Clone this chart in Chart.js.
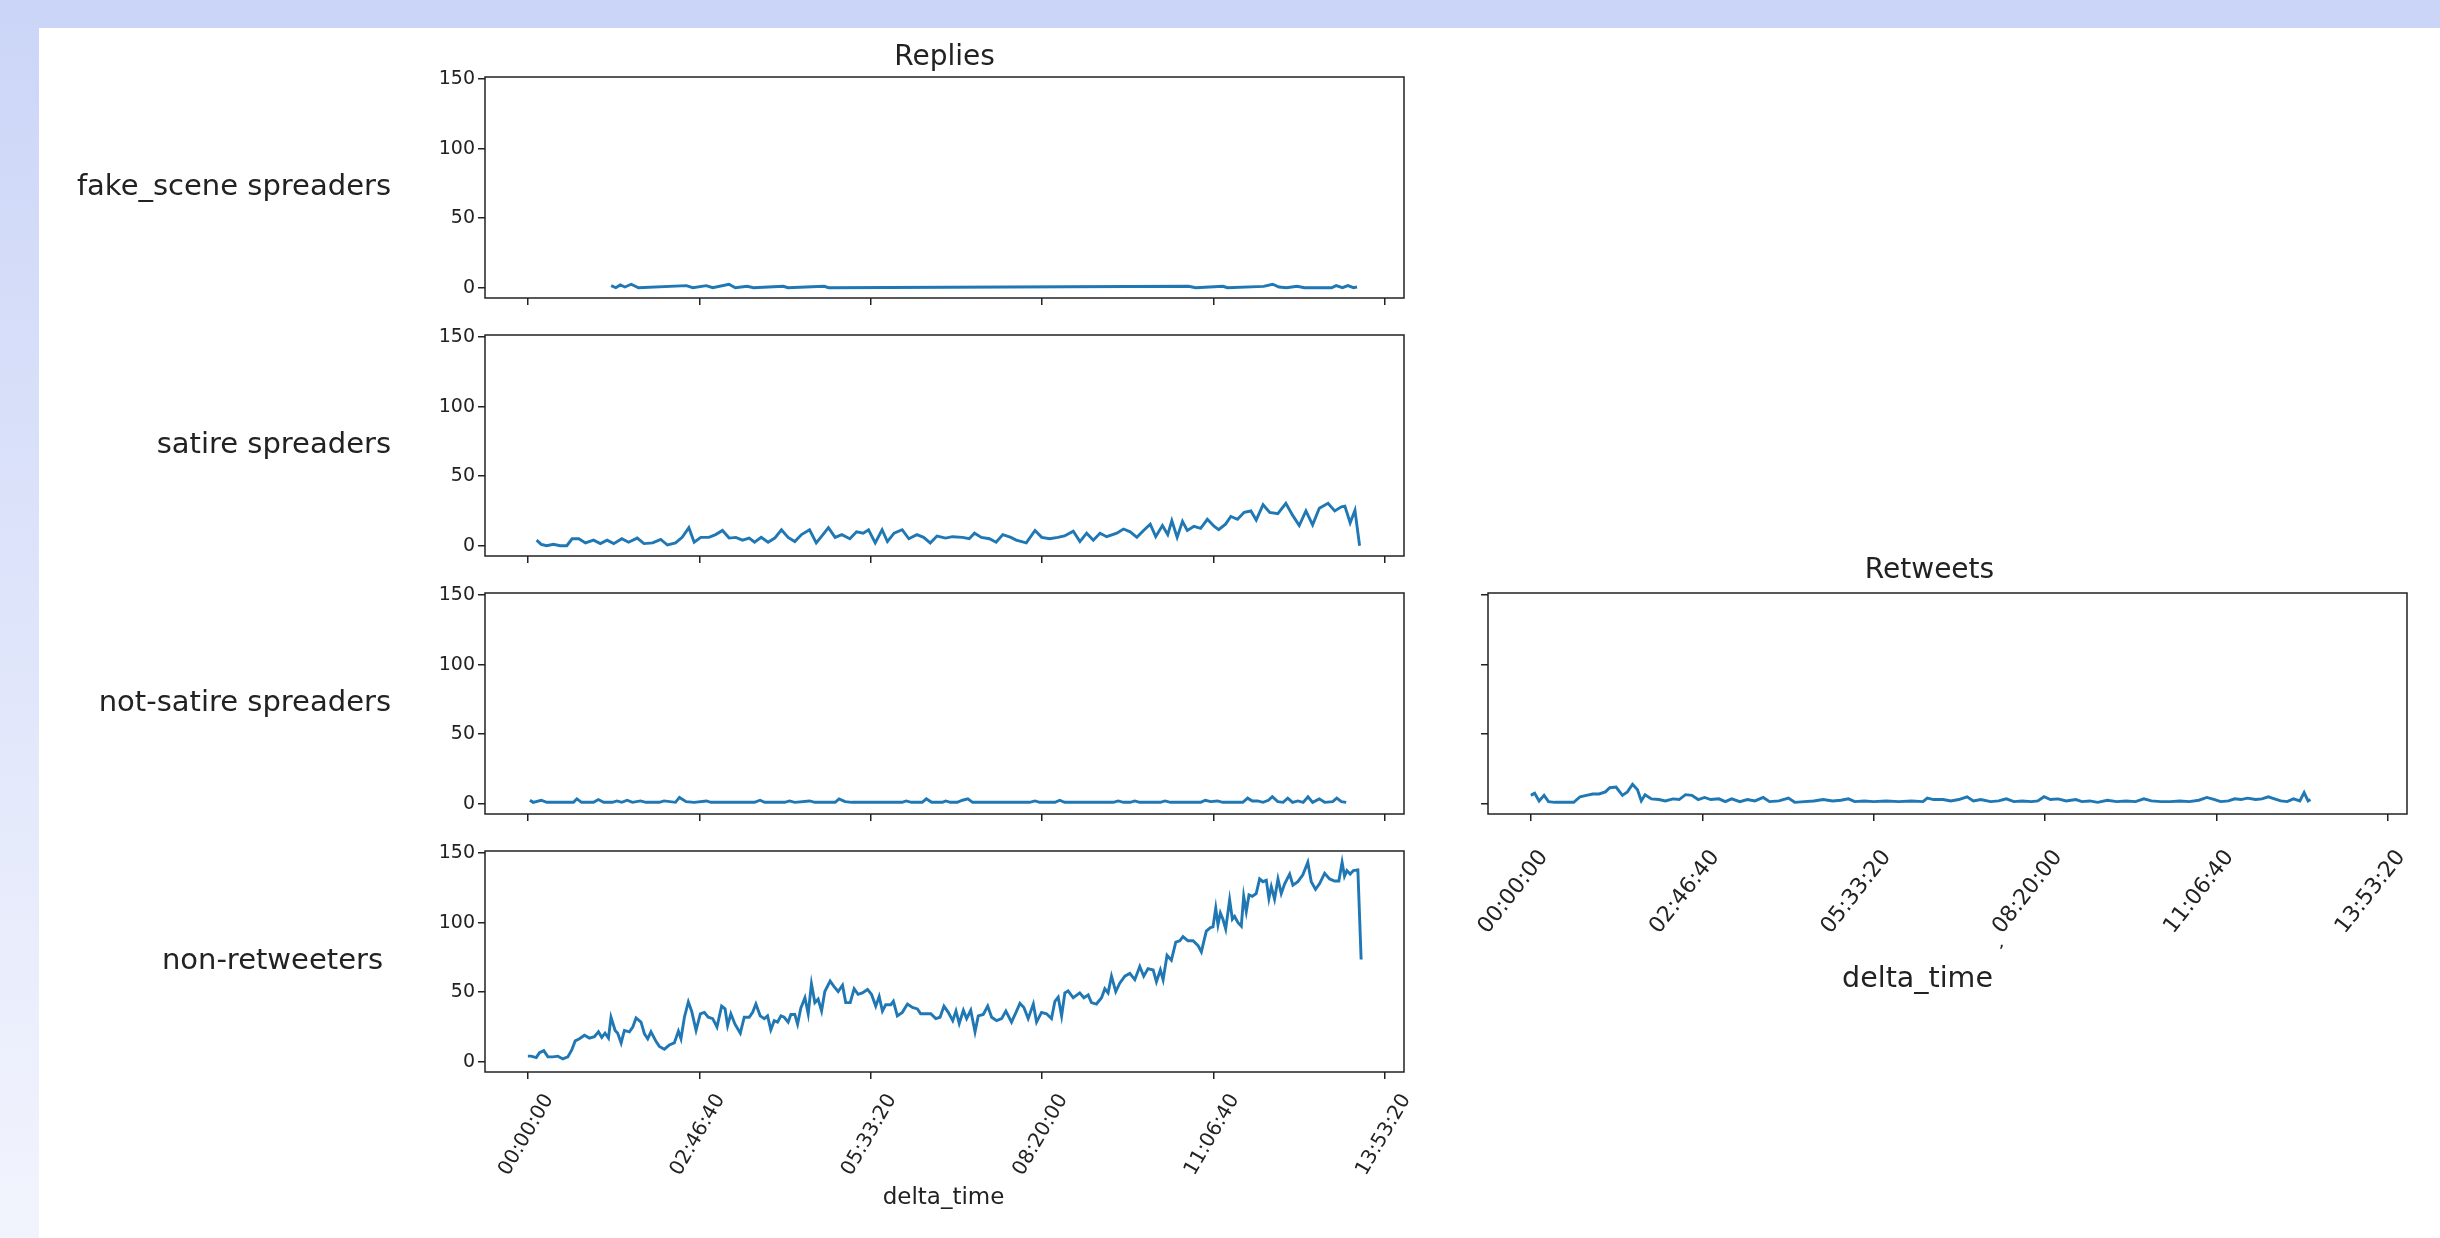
<!DOCTYPE html>
<html>
<head>
<meta charset="utf-8">
<script src="https://cdn.jsdelivr.net/npm/chart.js@4.4.1/dist/chart.umd.min.js"></script>
<style>
  body { margin: 0; width: 2440px; height: 1238px; background: #cbd5f7; position: relative; overflow: hidden; }
  #strip { position: absolute; left: 0; top: 0; width: 39px; height: 1238px; background: linear-gradient(#cbd5f7, #f2f4fd); }
  #sheet { position: absolute; left: 39px; top: 28px; right: 0; bottom: 0; background: #fff; }
  canvas { position: absolute; filter: blur(0.6px); }
</style>
</head>
<body>
<div id="strip"></div>
<div id="sheet"></div>
<canvas id="c0"></canvas>
<canvas id="c1"></canvas>
<canvas id="c2"></canvas>
<canvas id="c3"></canvas>
<canvas id="c4"></canvas>
<script>
// tick values (seconds) and their labels
const xTickValues = [0, 10000, 20000, 30000, 40000, 50000];
const xTickLabels = ["00:00:00", "02:46:40", "05:33:20", "08:20:00", "11:06:40", "13:53:20"];
const yTickValues = [0, 50, 100, 150];

const rowLabels = ["fake_scene spreaders", "satire spreaders", "not-satire spreaders", "non-retweeters"];

// [delta_time seconds, count]
const fakeSceneReplies = [[4860,1.5],[5130,0],[5390,2],[5660,0.5],[6030,2.5],[6450,0],[9250,1.5],[9620,0],[10410,1.5],[10780,0],
  [11730,2.5],[12100,0],[12790,1],[13160,0],[14900,1],[15170,0],[17280,1],[17550,0],[38530,1],[38950,0],[40540,1],[40800,0],
  [42910,1],[43440,2.5],[43810,0.5],[44240,0],[44870,1],[45290,0],[46880,0],[47140,1.5],[47510,0],[47830,1.5],[48150,0],[48360,0.5]];

const satireReplies = [[510,4],[780,1],[1100,0],[1490,1],[1880,0],[2270,0],[2580,5],[2970,5],[3360,2],[3830,4],[4230,1.5],[4620,4],
  [5010,1.5],[5480,5],[5870,2.5],[6380,5.5],[6770,1.5],[7280,2],[7750,4.5],[8140,0.5],[8610,2],[9000,6],[9390,13],[9700,2.5],
  [10090,6],[10560,6],[10950,8],[11350,11],[11740,5.5],[12130,6],[12520,4],[12910,5.5],[13220,2.5],[13610,6],[14010,2.5],
  [14400,5.5],[14790,11.5],[15180,6],[15570,3],[15960,8],[16430,11.5],[16820,2],[17210,8],[17530,13],[17920,6],[18310,8],
  [18780,5],[19170,10],[19560,9],[19870,11.5],[20260,2],[20660,11.5],[20970,3],[21360,9],[21830,11.5],[22220,5],[22690,8],
  [23080,6],[23470,2],[23860,7],[24370,5.5],[24760,6.5],[25350,6],[25740,5],[26050,9],[26450,6],[26920,5],[27310,2.5],
  [27700,8],[28170,6],[28480,4],[29070,2],[29580,11],[29970,6],[30440,5],[30910,6],[31300,7],[31810,10.5],[32200,3],
  [32590,9],[32980,4],[33370,9],[33760,6.5],[34350,9],[34740,12],[35130,10],[35520,6],[35910,11],[36300,15.5],[36620,6.5],
  [37010,14.5],[37320,8],[37560,18],[37870,6],[38180,17.5],[38460,11],[38850,14],[39240,12.5],[39630,19],[40020,14],
  [40290,11.5],[40690,15.5],[41000,21],[41390,19],[41780,24],[42170,25],[42480,18.5],[42880,29.5],[43270,24],[43740,23],
  [44210,30.5],[44600,22],[44990,14.5],[45380,25],[45770,15],[46160,27],[46670,30.5],[47060,25],[47450,28],[47650,28.5],
  [47960,16.5],[48240,25.5],[48510,0]];

const notSatireReplies = [[120,2.5],[310,1],[780,2.5],[1100,1],[2660,1],[2860,3.5],[3130,1],[3830,1],[4110,3],[4420,1],[4930,1],
  [5200,2],[5480,1],[5790,2.5],[6100,1],[6570,2],[6890,1],[7670,1],[7940,2],[8610,1],[8840,4.5],[9230,1.5],[9700,1],[10410,2],
  [10680,1],[13220,1],[13540,2.5],[13810,1],[14980,1],[15260,2],[15570,1],[16430,2],[16740,1],[17920,1],[18150,3.5],[18500,1.5],
  [18900,1],[21830,1],[22060,2],[22380,1],[23000,1],[23240,3.5],[23550,1],[24180,1],[24370,2],[24650,1],[25040,1],[25350,2.5],
  [25660,3.5],[25940,1],[29260,1],[29580,2],[29850,1],[30750,1],[31020,2.5],[31300,1],[34150,1],[34430,2],[34740,1],[35130,1],
  [35400,2],[35680,1],[36890,1],[37160,2],[37480,1],[39240,1],[39510,2.5],[39820,1.5],[40220,2],[40530,1],[41700,1],[41980,4],
  [42250,2],[42560,2],[42880,1],[43190,2.5],[43420,5],[43740,1.5],[44050,1],[44320,4],[44600,1],[44910,2],[45220,1],[45500,5],
  [45770,1],[46160,3.5],[46470,1],[46940,1.5],[47180,4],[47450,1.5],[47730,1]];

const nonRetweetersReplies = [[0,4],[190,4],[490,3],[680,6.5],[930,8],[1170,3.5],[1460,3.5],[1750,4],[2040,2],[2330,3.5],[2560,8.5],
  [2760,15],[3010,16.5],[3300,19],[3590,17],[3880,18],[4120,21.5],[4310,17.5],[4500,20.5],[4700,17],[4850,32],[5090,22.5],
  [5240,20.5],[5440,13.5],[5630,22.5],[5920,21.5],[6120,25],[6310,31.5],[6600,28.5],[6800,20],[6990,16.5],[7180,21.5],
  [7480,14.5],[7670,11],[7960,9],[8250,12],[8540,13.5],[8780,22],[8930,16.5],[9130,32],[9360,43],[9550,36.5],[9810,22.5],
  [10060,34.5],[10290,35.5],[10520,32],[10780,31],[11030,25],[11300,40],[11500,38],[11650,26],[11840,34.5],[12080,27],
  [12390,20.5],[12620,32],[12910,32],[13110,35.5],[13300,41.5],[13550,33],[13790,31],[13980,33],[14170,23],[14370,29.5],
  [14560,28.5],[14760,33],[14950,32],[15180,28.5],[15340,34],[15570,34],[15730,27],[15920,38.5],[16160,46],[16350,34.5],
  [16540,56],[16740,42.5],[16930,45],[17130,36.5],[17320,50.5],[17630,58],[17860,54],[18100,50.5],[18350,55],[18540,42.5],
  [18800,42.5],[19030,52.5],[19260,48.5],[19510,49.5],[19810,52],[20040,48.5],[20290,40],[20490,47],[20680,36.5],[20870,41],
  [21170,41],[21320,43.5],[21550,33],[21840,35.5],[22140,41.5],[22430,39],[22720,38],[22910,34.5],[23200,34.5],[23500,34.5],
  [23790,31],[24040,32],[24270,40],[24520,35.5],[24780,29.5],[24970,36.5],[25160,27.5],[25400,37],[25590,31],[25830,37],
  [26080,21.5],[26270,33],[26560,34],[26820,40],[27050,32],[27340,29.5],[27630,31],[27880,36.5],[28210,28.5],[28470,35.5],
  [28700,42],[28930,39],[29180,31],[29480,41.5],[29670,28.5],[29960,35.5],[30250,34.5],[30540,31],[30740,43.5],[30930,46.5],
  [31130,33],[31320,49.5],[31510,51],[31810,46],[32190,49.5],[32430,46],[32680,48],[32870,42.5],[33160,41.5],[33460,46],
  [33650,52.5],[33840,49.5],[34040,61.5],[34290,50.5],[34520,56.5],[34820,61.5],[35110,63.5],[35400,59],[35690,68.5],
  [35920,61.5],[36170,67],[36470,66],[36660,57.5],[36890,66],[37050,59],[37280,76.5],[37530,73],[37790,86],[38020,87],
  [38210,90],[38500,87],[38800,87],[39090,83.5],[39280,79],[39570,94],[39810,96.5],[39960,97],[40120,110.5],[40250,98.5],
  [40390,107],[40540,102.5],[40700,95.5],[40930,116.5],[41090,102.5],[41220,104.5],[41420,100],[41610,97.5],[41750,119],
  [41900,108],[42060,120],[42250,119],[42480,121],[42680,131.5],[42870,129.5],[43070,130.5],[43220,117.5],[43360,126],
  [43550,117],[43750,131.5],[43940,121],[44140,128],[44430,135],[44620,127],[44910,129.5],[45200,134.5],[45490,143.5],
  [45690,129.5],[45940,124],[46170,128],[46470,135.5],[46760,131.5],[47050,130],[47300,130],[47490,143.5],[47630,133.5],
  [47770,137.5],[47960,135],[48150,137.5],[48410,138],[48600,73.5]];

const notSatireRetweets = [[0,6],[220,7.5],[480,2],[770,6],[1030,1.5],[1400,1],[2500,1],[2870,5],[3240,6],[3610,7],[3980,7],
  [4350,8.5],[4600,11.5],[4970,12],[5340,6],[5630,8.5],[5930,14],[6220,10],[6440,2],[6660,6.5],[7030,3.5],[7470,3],[7840,2],
  [8290,3.5],[8650,3],[9020,6.5],[9390,6],[9760,3],[10130,4.5],[10490,3],[10970,3.5],[11340,1.5],[11710,3.5],[12190,1.5],
  [12630,3],[13070,2],[13550,4.5],[13920,1.5],[14470,2],[15020,4],[15390,1],[15940,1.5],[16500,2],[17050,3],[17600,2],
  [18080,2.5],[18520,3.5],[18890,1.5],[19440,2],[19990,1.5],[20730,2],[21470,1.5],[22200,2],[22870,1.5],[23120,4],[23490,3],
  [24040,3],[24490,2],[24960,3],[25440,5],[25810,2],[26250,3],[26810,1.5],[27280,2],[27730,3.5],[28170,1.5],[28650,2],
  [29200,1.5],[29570,2],[29930,5],[30300,3],[30750,3.5],[31220,2],[31780,3],[32140,1.5],[32590,2],[33060,1],[33620,2.5],
  [34170,1.5],[34720,2],[35270,1.5],[35750,3.5],[36190,2],[36750,1.5],[37300,1.5],[37850,2],[38400,1.5],[38960,2.5],
  [39430,4.5],[39880,3],[40240,1.5],[40690,2],[41050,3.5],[41420,3],[41790,4],[42270,3],[42640,3.5],[43010,5],[43370,3.5],
  [43740,2],[44110,1.5],[44480,3.5],[44850,2],[45100,8],[45330,2],[45470,3]];

Chart.defaults.font.family = "DejaVu Sans";
Chart.defaults.color = "#222";

// frame + extra texts drawn round the plot area
const panelText = {
  id: "panelText",
  afterDraw(chart, args, opts) {
    const ctx = chart.ctx;
    const a = chart.chartArea;
    ctx.save();
    ctx.strokeStyle = "#222";
    ctx.lineWidth = 1.5;
    ctx.strokeRect(a.left, a.top, a.right - a.left, a.bottom - a.top);
    ctx.fillStyle = "#222";
    if (opts.title) {
      ctx.font = "28px 'DejaVu Sans'";
      ctx.textAlign = "center";
      ctx.textBaseline = "alphabetic";
      ctx.fillText(opts.title, (a.left + a.right) / 2 + (opts.titleDx || 0), a.top - (opts.titleGap || 12));
    }
    if (opts.side) {
      ctx.font = "29px 'DejaVu Sans'";
      ctx.textAlign = "right";
      ctx.textBaseline = "middle";
      ctx.fillText(opts.side, a.left - opts.sideGap, (a.top + a.bottom) / 2);
    }
    if (opts.xlabel) {
      ctx.font = opts.xlabelSize + "px 'DejaVu Sans'";
      ctx.textAlign = "center";
      ctx.textBaseline = "middle";
      ctx.fillText(opts.xlabel, (a.left + a.right) / 2 + opts.xlabelDx, a.bottom + opts.xlabelDy);
    }
    if (opts.stray) {
      ctx.font = "18px 'DejaVu Sans'";
      ctx.textAlign = "center";
      ctx.textBaseline = "middle";
      ctx.fillText(opts.stray, (a.left + a.right) / 2 + opts.strayDx, a.bottom + opts.strayDy);
    }
    ctx.restore();
  }
};

function makeChart(id, geo, data, extra) {
  const cv = document.getElementById(id);
  const padTop = 70, padRight = 30;
  cv.width = geo.plotLeft - geo.left + geo.plotWidth + padRight;
  cv.height = padTop + geo.plotHeight + geo.bottom;
  cv.style.left = geo.left + "px";
  cv.style.top = (geo.plotTop - padTop) + "px";
  const tickGrid = { display: true, drawOnChartArea: false, drawTicks: true, tickLength: 7, color: "#222", lineWidth: 1.5 };
  return new Chart(cv, {
    type: "line",
    data: {
      datasets: [{
        data: data,
        borderColor: "#1f77b4",
        borderWidth: 2.9,
        pointRadius: 0,
        tension: 0,
        fill: false
      }]
    },
    options: {
      responsive: false,
      animation: false,
      devicePixelRatio: 1,
      layout: { padding: { left: 0, top: padTop, right: padRight, bottom: 0 } },
      plugins: { legend: { display: false }, tooltip: { enabled: false }, panelText: extra },
      scales: {
        x: {
          type: "linear",
          min: -2500,
          max: 51100,
          border: { display: false },
          grid: tickGrid,
          afterBuildTicks: s => { s.ticks = xTickValues.map(v => ({ value: v })); },
          afterFit: s => { s.height = geo.bottom; },
          ticks: {
            display: geo.xLabels,
            autoSkip: false,
            minRotation: geo.xRot,
            maxRotation: geo.xRot,
            padding: geo.xPad,
            labelOffset: geo.xOffset,
            font: { size: geo.xFont },
            callback: v => xTickLabels[xTickValues.indexOf(v)]
          }
        },
        y: {
          min: -7.4,
          max: 151.6,
          border: { display: false },
          grid: tickGrid,
          afterBuildTicks: s => { s.ticks = yTickValues.map(v => ({ value: v })); },
          afterFit: s => { s.width = geo.plotLeft - geo.left; },
          ticks: { display: geo.yLabels, padding: 3, font: { size: 19 } }
        }
      }
    },
    plugins: [panelText]
  });
}

const plotTops = [77, 335, 593, 851];
const sideGaps = [94, 94, 94, 102];
const leftSeries = [fakeSceneReplies, satireReplies, notSatireReplies, nonRetweetersReplies];

leftSeries.forEach((d, i) => {
  const last = i === 3;
  makeChart("c" + i, {
    left: 40, plotLeft: 485, plotTop: plotTops[i], plotWidth: 919, plotHeight: 221,
    bottom: last ? 180 : 20, xLabels: last, yLabels: true,
    xRot: 60, xPad: 11, xOffset: 21, xFont: 20
  }, d, {
    title: i === 0 ? "Replies" : null,
    side: rowLabels[i], sideGap: sideGaps[i],
    xlabel: last ? "delta_time" : null, xlabelSize: 23, xlabelDx: -1, xlabelDy: 126
  });
});

makeChart("c4", {
  left: 1440, plotLeft: 1488, plotTop: 593, plotWidth: 919, plotHeight: 221,
  bottom: 200, xLabels: true, yLabels: false,
  xRot: 52, xPad: 24, xOffset: 13, xFont: 22
}, notSatireRetweets, {
  title: "Retweets", titleDx: -18, titleGap: 15,
  xlabel: "delta_time", xlabelSize: 28.5, xlabelDx: -30, xlabelDy: 166,
  stray: ",", strayDx: 54, strayDy: 128
});
</script>
</body>
</html>
